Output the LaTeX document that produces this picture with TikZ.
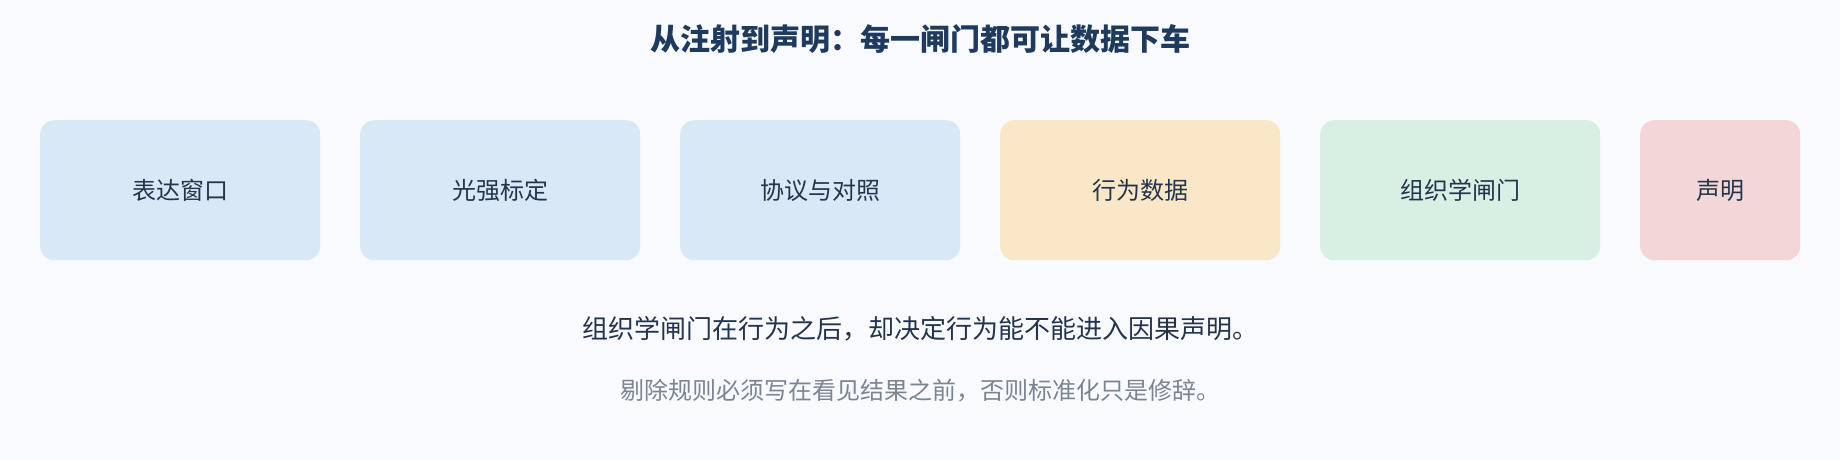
\documentclass[tikz,border=0pt]{standalone}
\usepackage{fontspec}
\setmainfont{Noto Sans CJK SC}
\newfontfamily\cjk{Noto Sans CJK SC}
\definecolor{bg}{HTML}{F8FAFD}
\definecolor{bluebox}{HTML}{D9E8F6}
\definecolor{orangebox}{HTML}{FAE7C7}
\definecolor{greenbox}{HTML}{D7F0E3}
\definecolor{redbox}{HTML}{F3D6D6}
\definecolor{titlec}{HTML}{1F3A5F}
\definecolor{textc}{HTML}{23344D}
\definecolor{grayc}{HTML}{7A8594}
\begin{document}
\begin{tikzpicture}[x=1pt,y=-1pt,
  stage/.style={rounded corners=14pt, minimum height=140pt, inner sep=0pt, text=textc, font=\cjk\fontsize{24}{28}\selectfont, anchor=north west},
  wide/.style={stage, minimum width=280pt},
  narrow/.style={stage, minimum width=160pt}]
\useasboundingbox (0,0) rectangle (1840,460);
\fill[bg] (0,0) rectangle (1840,460);
\node[text=titlec, font=\cjk\bfseries\fontsize{30}{36}\selectfont] (title) at (920,39) {从注射到声明：每一闸门都可让数据下车};
\node[wide, fill=bluebox] (s1) at (40,120) {表达窗口};
\node[wide, fill=bluebox] (s2) at (360,120) {光强标定};
\node[wide, fill=bluebox] (s3) at (680,120) {协议与对照};
\node[wide, fill=orangebox] (s4) at (1000,120) {行为数据};
\node[wide, fill=greenbox] (s5) at (1320,120) {组织学闸门};
\node[narrow, fill=redbox] (s6) at (1640,120) {声明};
\node[text=textc, font=\cjk\fontsize{26}{31}\selectfont] (l1) at (920,329) {组织学闸门在行为之后，却决定行为能不能进入因果声明。};
\node[text=grayc, font=\cjk\fontsize{24}{28}\selectfont] (l2) at (920,391) {剔除规则必须写在看见结果之前，否则标准化只是修辞。};
\end{tikzpicture}
\end{document}
